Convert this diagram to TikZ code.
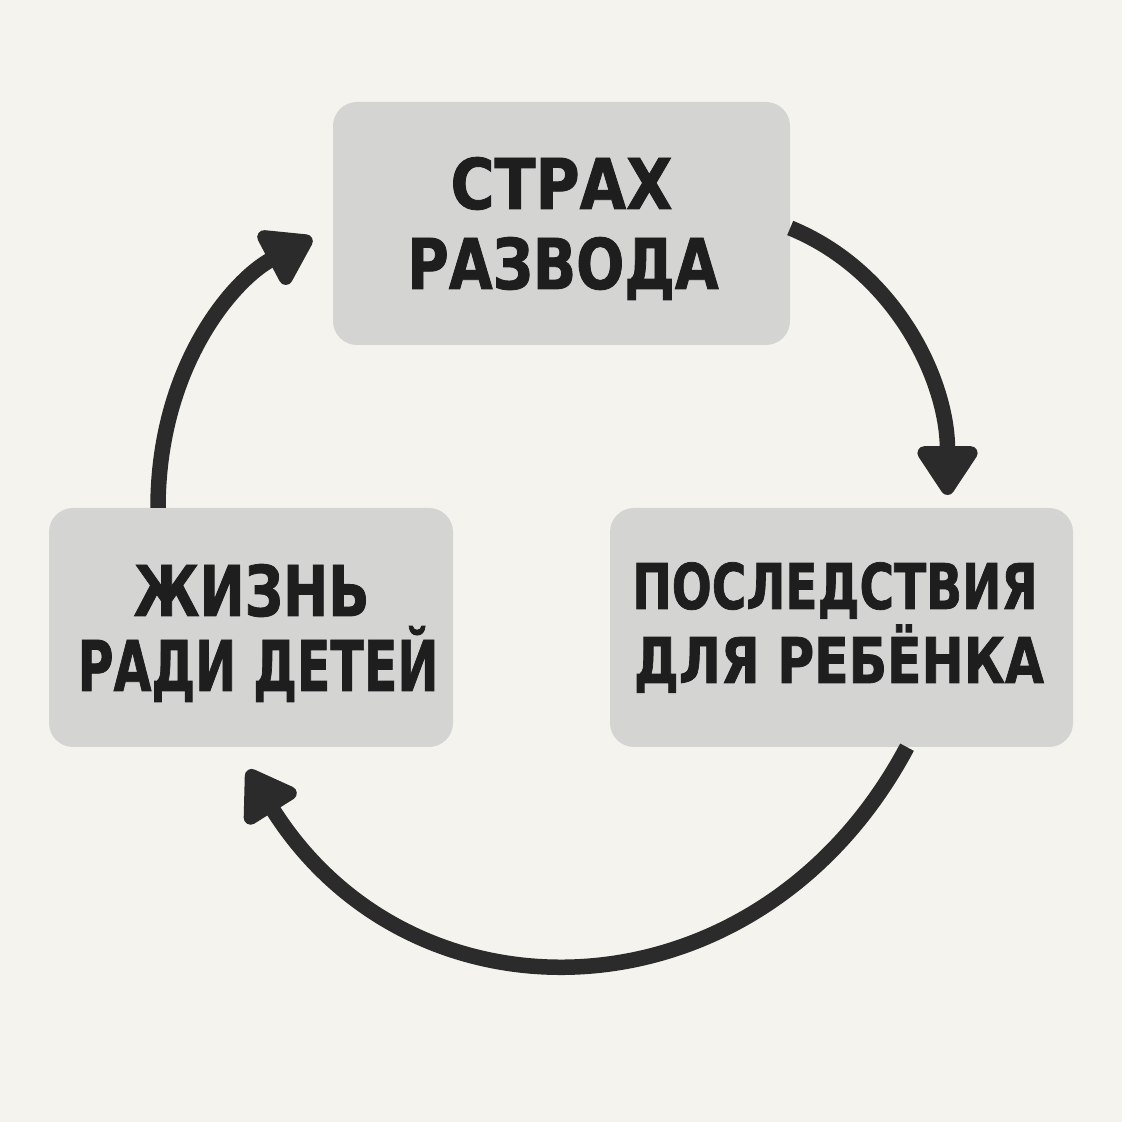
\documentclass[tikz,border=0pt]{standalone}
\usepackage{fontspec}
\usepackage{graphicx}
\setmainfont{DejaVu Sans}
\newfontfamily\lblfont{DejaVu Sans}[FakeStretch=0.85, BoldFeatures={FakeBold=1.2}]
\usetikzlibrary{arrows.meta}
\definecolor{bg}{HTML}{F5F3EE}
\definecolor{boxfill}{HTML}{D4D5D2}
\definecolor{ink}{HTML}{1E1E1E}
\definecolor{arrowc}{HTML}{2B2B2B}
\begin{document}
\begin{tikzpicture}[x=1pt,y=1pt,
  box/.style={draw=none, fill=boxfill, rounded corners=24pt, inner sep=0pt},
  lbl/.style={anchor=base, text=ink, inner sep=0pt},
  bigfont/.style={font=\lblfont\bfseries\fontsize{70}{80}\selectfont},
  midfont/.style={font=\lblfont\bfseries\fontsize{63}{74}\selectfont},
  conn/.style={line width=15.5pt, draw=arrowc, -{Triangle[width=68pt,length=55pt,round]}}]
\fill[bg] (0,0) rectangle (1122,1122);
\useasboundingbox (0,0) rectangle (1122,1122);
% boxes
\node[box, minimum width=457pt, minimum height=243pt] (top) at (561.5,898.5) {};
\node[box, minimum width=463pt, minimum height=239pt] (right) at (841.5,494.5) {};
\node[box, minimum width=404pt, minimum height=239pt] (left) at (251,494.5) {};
% labels
\node[lbl, bigfont] (topA) at (561.5,913) {\scalebox{1.01}[1]{СТРАХ}};
\node[lbl, bigfont] (topB) at (563,833) {\scalebox{0.953}[1]{РАЗВОДА}};
\node[lbl, midfont] (rightA) at (835,513) {\scalebox{0.879}[1]{ПОСЛЕДСТВИЯ}};
\node[lbl, midfont] (rightB) at (839,439) {\scalebox{0.942}[1]{ДЛЯ РЕБЁНКА}};
\node[lbl, bigfont] (leftA) at (251.5,506) {\scalebox{0.907}[1]{ЖИЗНЬ}};
\node[lbl, bigfont] (leftB) at (258,431) {\scalebox{0.824}[1]{РАДИ ДЕТЕЙ}};
% tips
\coordinate (tipA) at (947.5,627);
\coordinate (tipB) at (248,352);
\coordinate (tipC) at (312,884);
% connectors
\draw[conn] ([yshift=-4.5pt]top.east) .. controls +(105,-43) and +(0,115) .. (tipA);
\draw[conn] ([xshift=65.5pt]right.south) .. controls +(-147,-276) and +(166,-265) .. (tipB);
\draw[conn] ([xshift=-93pt]left.north) .. controls +(0,140) and +(-79.5,-42) .. (tipC);
\end{tikzpicture}
\end{document}
